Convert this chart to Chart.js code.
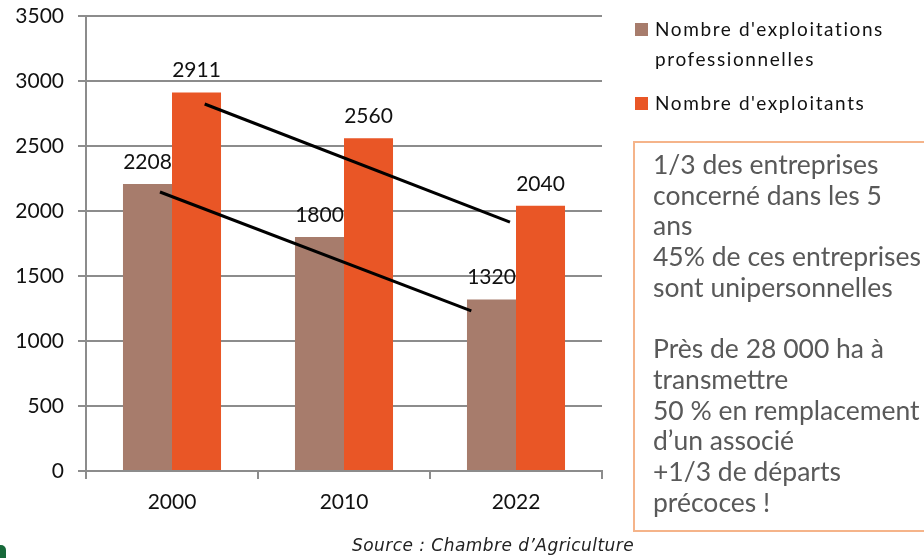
<!DOCTYPE html>
<html>
<head>
<meta charset="utf-8">
<script src="https://cdn.jsdelivr.net/npm/chart.js@4/dist/chart.umd.min.js"></script>
<style>
    html, body { margin: 0; padding: 0; background: #fff; }
    #wrap { position: relative; width: 924px; height: 558px; overflow: hidden; font-family: Lato, sans-serif; }
    #chart { position: absolute; left: 0; top: 0; }
    #legend { position: absolute; left: 635px; top: 14px; color: #111; font-size: 19px; line-height: 30px; letter-spacing: 1.6px; }
    #legend .item { position: relative; padding-left: 20px; margin-bottom: 14px; }
    #legend .sw { position: absolute; left: 0; top: 9px; width: 13px; height: 13px; }
    #note { position: absolute; left: 633px; top: 141px; width: 320px; height: 391px; border: 2px solid #f5b48a;
            box-sizing: border-box; padding: 6px 0 0 18px; color: #595959; font-size: 26.5px; line-height: 30.7px; white-space: nowrap; }
    #source { position: absolute; left: 352px; top: 535px; font-family: 'DejaVu Sans', sans-serif; font-style: italic; font-size: 17px; letter-spacing: 0.45px; color: #222; }
    #logo { position: absolute; left: 0; top: 545px; width: 6px; height: 13px; background: #17693a; border-top-right-radius: 5px; }
</style>
</head>
<body>
<div id="wrap">
    <canvas id="chart" width="924" height="558"></canvas>
    <div id="legend"></div>
    <div id="note">1/3 des entreprises<br>concerné dans les 5<br>ans<br>45% de ces entreprises<br>sont unipersonnelles<br><br>Près de 28 000 ha à<br>transmettre<br>50 % en remplacement<br>d’un associé<br>+1/3 de départs<br>précoces !</div>
    <div id="source">Source : Chambre d’Agriculture</div>
    <div id="logo"></div>
</div>
<script>
// données
var years = ['2000', '2010', '2022'];
var exploitations = [2208, 1800, 1320];
var exploitants = [2911, 2560, 2040];
var seriesNames = ["Nombre d'exploitations professionnelles", "Nombre d'exploitants"];
var seriesColors = ['#a77c6c', '#e95626'];

// lignes de tendance tracées à la main (x en unités de catégorie, 0 = bord gauche de l'axe)
var trendExploitants = [{x: 0.69, y: 2823}, {x: 2.465, y: 1915}];
var trendExploitations = [{x: 0.43, y: 2146}, {x: 2.24, y: 1231}];

var grey = '#8c8c8c';
var tickFont = { family: 'Lato, sans-serif', size: 21 };

// étiquettes de valeur au-dessus des barres + lignes de tendance
var overlays = {
    id: 'overlays',
    afterDatasetsDraw: function (chart) {
        var ctx = chart.ctx;
        var x = chart.scales.x, y = chart.scales.y;
        ctx.save();
        ctx.strokeStyle = '#000';
        ctx.lineWidth = 3;
        [trendExploitants, trendExploitations].forEach(function (pts) {
            ctx.beginPath();
            ctx.moveTo(x.getPixelForValue(pts[0].x - 0.5), y.getPixelForValue(pts[0].y));
            ctx.lineTo(x.getPixelForValue(pts[1].x - 0.5), y.getPixelForValue(pts[1].y));
            ctx.stroke();
        });
        ctx.font = '21px Lato, sans-serif';
        ctx.fillStyle = '#111';
        ctx.textAlign = 'center';
        ctx.textBaseline = 'middle';
        [0, 1].forEach(function (di) {
            var meta = chart.getDatasetMeta(di);
            meta.data.forEach(function (bar, i) {
                ctx.fillText(chart.data.datasets[di].data[i], bar.x, bar.y - 22);
            });
        });
        ctx.restore();
    }
};

var chart = new Chart(document.getElementById('chart'), {
    type: 'bar',
    data: {
        labels: years,
        datasets: [{
            label: seriesNames[0],
            data: exploitations,
            backgroundColor: seriesColors[0],
            barPercentage: 1,
            categoryPercentage: 0.57
        }, {
            label: seriesNames[1],
            data: exploitants,
            backgroundColor: seriesColors[1],
            barPercentage: 1,
            categoryPercentage: 0.57
        }]
    },
    options: {
        responsive: false,
        animation: false,
        layout: { padding: { left: 0, top: 16, right: 322, bottom: 0 } },
        plugins: { legend: { display: false }, tooltip: { enabled: false } },
        scales: {
            x: {
                grid: { drawOnChartArea: false, color: grey, lineWidth: 2, tickLength: 8 },
                border: { color: grey, width: 2 },
                ticks: { padding: 11, color: '#111', font: tickFont },
                afterFit: function (s) { s.height = 87; s.paddingLeft = 0; s.paddingRight = 0; }
            },
            y: {
                min: 0,
                max: 3500,
                ticks: { stepSize: 500, padding: 14, color: '#111', font: tickFont,
                         callback: function (v) { return String(v); } },
                grid: { color: grey, lineWidth: 2, tickLength: 8 },
                border: { color: grey, width: 2 },
                afterFit: function (s) { s.width = 86; s.paddingTop = 0; s.paddingBottom = 0; }
            }
        }
    },
    plugins: [overlays]
});

// légende HTML (le premier libellé passe sur deux lignes)
var legendHtml = '';
for (var i = 0; i < seriesNames.length; i++) {
    var txt = i === 0 ? "Nombre d'exploitations<br>professionnelles" : seriesNames[i];
    legendHtml += '<div class="item"><span class="sw" style="background:' + seriesColors[i] + '"></span>' + txt + '</div>';
}
document.getElementById('legend').innerHTML = legendHtml;
</script>
</body>
</html>
